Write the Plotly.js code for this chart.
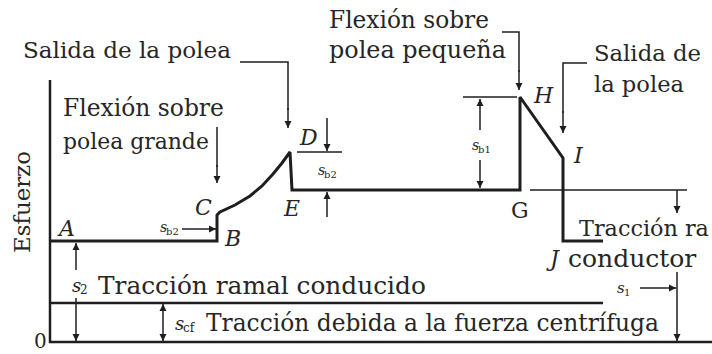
<!DOCTYPE html>
<html>
<head>
<meta charset="utf-8">
<script src="https://cdn.plot.ly/plotly-3.0.1.min.js"></script>
<style>html,body{margin:0;padding:0;background:#fff;}#chart{width:712px;height:354px;}</style>
</head>
<body>
<div id="chart"></div>
<script>
// Stress path of the belt (x = position along belt, y = stress)
const stressX = [0, 167, 167, 170, 185, 200, 212, 223, 232, 240, 242, 470, 470, 480, 490, 500, 507, 513, 513, 553];
const stressY = [101, 101, 127, 130, 137, 146, 156, 168, 179, 190, 152, 152, 245, 231, 217, 203, 192, 184, 101, 101];

// Axes of the diagram
const axisX = [0, 0, 662];
const axisY = [262, 0, 0];

// Centrifugal tension level
const centrifX = [0, 553];
const centrifY = [39, 39];

// Reference / dimension lines
const refGX = [480, 637], refGY = [152, 152];
const tickHX = [413, 467], tickHY = [245, 245];
const tickDX = [247, 292], tickDY = [190, 190];

// Leader lines
const lead1X = [190, 238, 238], lead1Y = [280, 280, 232];
const lead2X = [167, 167], lead2Y = [215, 175];
const lead3X = [452, 469, 469], lead3Y = [310, 310, 270];
const lead4X = [537, 513, 513], lead4Y = [279, 279, 229];

// Arrows: [tailX, tailY, headX, headY]
const arrows = [
  [26, 72, 26, 99],
  [26, 44, 26, 1],
  [113, 20, 113, 38],
  [113, 20, 113, 1],
  [627, 70, 627, 1],
  [590, 54, 626, 54],
  [430, 212, 430, 243],
  [430, 182, 430, 154],
  [277, 224, 277, 191],
  [277, 125, 277, 150],
  [132, 113, 166, 113],
  [627, 152, 627, 129],
  [238, 234, 238, 214],
  [167, 177, 167, 159],
  [469, 272, 469, 252],
  [513, 231, 513, 209]
];

// Text labels: [text, left x, y, target width]
const texts = [
  ['Salida de la polea', -28, 292, 208],
  ['Flexión sobre', 12, 234, 161],
  ['polea grande', 12, 201, 146],
  ['Flexión sobre', 278, 323, 160],
  ['polea pequeña', 278, 292, 177],
  ['Salida de', 543, 289, 107],
  ['la polea', 543, 258, 90],
  ['Tracción ra', 528, 114, 130],
  ['conductor', 517, 84, 130],
  ['Tracción ramal conducido', 47, 57, 328],
  ['Tracción debida a la fuerza centrífuga', 155, 19, 453]
];
// point letters: [text, x, y, italic]
const letters = [
  ['A', 16, 114, true], ['B', 182, 104, true], ['C', 153, 135, true], ['D', 258, 205, true],
  ['E', 241, 134, true], ['H', 493, 247, true], ['I', 528, 187, true], ['J', 503, 84, true],
  ['G', 470, 132, false]
];
// stress symbols: [base, subscript, x, y, size]
const subs = [
  ['s', '2', 30, 57, 18],
  ['s', 'cf', 133, 19, 18],
  ['s', 'b2', 116, 115, 14],
  ['s', 'b2', 274, 172, 14],
  ['s', 'b1', 428, 197, 14],
  ['s', '1', 574, 54, 15]
];
const originLabel = '0';
const yTitle = 'Esfuerzo';

const ink = '#1e1e1e';
const txt = '#262626';
const family = 'DejaVu Serif';
const font = '"DejaVu Serif", "Liberation Serif", serif';

const cv = document.createElement('canvas').getContext('2d');
function fitSize(s, w) {
  cv.font = '20px ' + font;
  const m = cv.measureText(s).width;
  return Math.max(15, Math.min(25, 20 * w / m));
}

function join(list) {
  const X = [], Y = [];
  list.forEach(p => { X.push(...p[0], null); Y.push(...p[1], null); });
  return [X, Y];
}
function ln(xy, w) {
  return {x: xy[0], y: xy[1], type: 'scatter', mode: 'lines', hoverinfo: 'skip',
          line: {color: ink, width: w}, showlegend: false};
}

// arrow shafts and heads built from the arrow table
const shafts = [], headX = [], headY = [], headSym = [];
arrows.forEach(a => {
  shafts.push([[a[0], a[2]], [a[1], a[3]]]);
  headX.push(a[2]); headY.push(a[3]);
  const dx = a[2] - a[0], dy = a[3] - a[1];
  headSym.push(Math.abs(dx) > Math.abs(dy) ? (dx > 0 ? 'arrow-right' : 'arrow-left')
                                           : (dy > 0 ? 'arrow-up' : 'arrow-down'));
});

const thinLines = join([
  [refGX, refGY], [tickHX, tickHY], [tickDX, tickDY],
  [lead1X, lead1Y], [lead2X, lead2Y], [lead3X, lead3Y], [lead4X, lead4Y]
].concat(shafts));
const frameLines = join([[axisX, axisY], [centrifX, centrifY]]);

const data = [
  ln(frameLines, 2.5),
  ln([stressX, stressY], 3),
  ln(thinLines, 1.5),
  {x: headX, y: headY, type: 'scatter', mode: 'markers', hoverinfo: 'skip', showlegend: false,
   marker: {symbol: headSym, size: 7, color: ink, line: {width: 0}}}
];

const ann = [];
function addText(text, x, y, xa, ya, size, italic, angle) {
  ann.push({x: x, y: y, xref: 'x', yref: 'y', text: text, showarrow: false,
            xanchor: xa, yanchor: ya, textangle: angle || 0, borderpad: 0,
            font: {family: family, size: size, color: txt, style: italic ? 'italic' : 'normal'}});
}
texts.forEach(t => addText(t[0], t[1], t[2], 'left', 'middle', fitSize(t[0], t[3]), false));
letters.forEach(t => addText(t[0], t[1], t[2], 'center', 'middle', 22, t[3]));
subs.forEach(t => {
  addText(t[0], t[2] + 2, t[3], 'right', 'middle', t[4], true);
  addText(t[1], t[2] - 1, t[3] - t[4] * 0.3, 'left', 'middle', Math.round(t[4] * 0.68), false);
});
addText(originLabel, -10, -12, 'center', 'bottom', 20, false);
addText(yTitle, -28, 140, 'center', 'middle', fitSize(yTitle, 102), false, -90);

const layout = {
  width: 712, height: 354,
  margin: {l: 0, r: 0, t: 0, b: 0},
  paper_bgcolor: '#fff', plot_bgcolor: '#fff',
  xaxis: {range: [-50, 662], visible: false, fixedrange: true},
  yaxis: {range: [-12, 342], visible: false, fixedrange: true},
  annotations: ann,
  showlegend: false
};

Plotly.newPlot('chart', data, layout, {displayModeBar: false, staticPlot: true});
</script>
</body>
</html>
